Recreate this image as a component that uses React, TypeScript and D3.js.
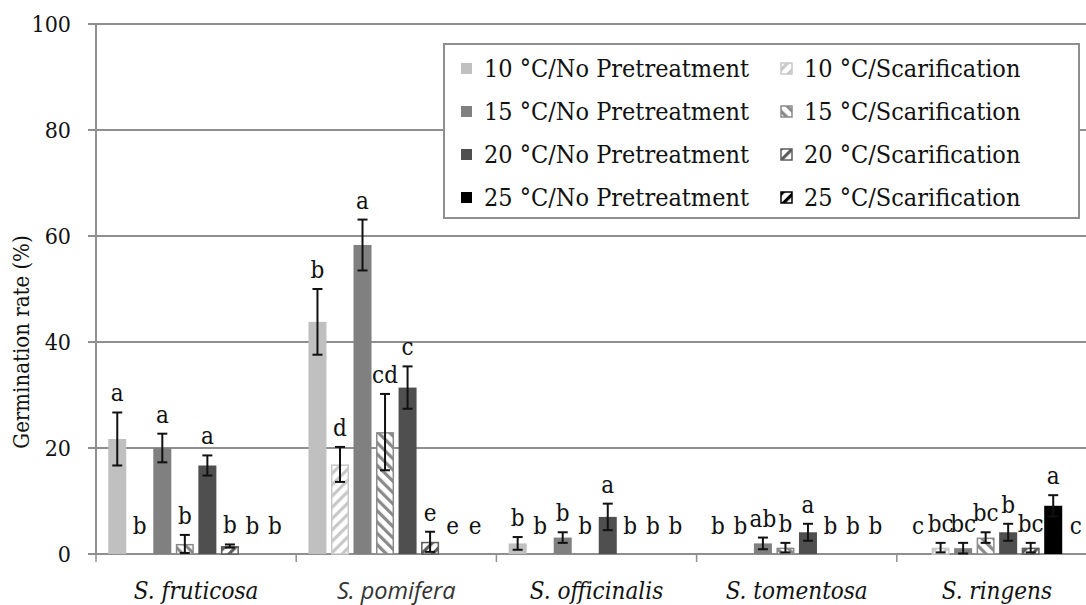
import React from 'react';
import * as d3 from 'd3';

// treatments, in the order the bars appear inside each species group
const treatments = [
  '10 °C/No Pretreatment',
  '10 °C/Scarification',
  '15 °C/No Pretreatment',
  '15 °C/Scarification',
  '20 °C/No Pretreatment',
  '20 °C/Scarification',
  '25 °C/No Pretreatment',
  '25 °C/Scarification',
];

const species = ['S. fruticosa', 'S. pomifera', 'S. officinalis', 'S. tomentosa', 'S. ringens'];

// mean germination rate (%) per treatment
const fruticosaMeans = [21.7, 0, 20.0, 1.9, 16.7, 1.5, 0, 0];
const pomiferaMeans = [43.8, 16.9, 58.3, 23.0, 31.4, 2.3, 0, 0];
const officinalisMeans = [2.0, 0, 3.1, 0, 7.0, 0, 0, 0];
const tomentosaMeans = [0, 0, 2.0, 1.2, 4.1, 0, 0, 0];
const ringensMeans = [0, 1.2, 1.1, 3.1, 4.1, 1.2, 9.1, 0];

// standard errors
const fruticosaErrors = [5.0, 0, 2.7, 1.7, 1.9, 0.3, 0, 0];
const pomiferaErrors = [6.2, 3.3, 4.8, 7.2, 4.0, 1.9, 0, 0];
const officinalisErrors = [1.2, 0, 1.0, 0, 2.5, 0, 0, 0];
const tomentosaErrors = [0, 0, 1.1, 0.9, 1.6, 0, 0, 0];
const ringensErrors = [0, 0.9, 1.0, 1.0, 1.6, 0.9, 2.0, 0];

// significance letters
const fruticosaLetters = ['a', 'b', 'a', 'b', 'a', 'b', 'b', 'b'];
const pomiferaLetters = ['b', 'd', 'a', 'cd', 'c', 'e', 'e', 'e'];
const officinalisLetters = ['b', 'b', 'b', 'b', 'a', 'b', 'b', 'b'];
const tomentosaLetters = ['b', 'b', 'ab', 'b', 'a', 'b', 'b', 'b'];
const ringensLetters = ['c', 'bc', 'bc', 'bc', 'b', 'bc', 'a', 'c'];

const yTicks = [0, 20, 40, 60, 80, 100];

const means = [fruticosaMeans, pomiferaMeans, officinalisMeans, tomentosaMeans, ringensMeans];
const errors = [fruticosaErrors, pomiferaErrors, officinalisErrors, tomentosaErrors, ringensErrors];
const letters = [fruticosaLetters, pomiferaLetters, officinalisLetters, tomentosaLetters, ringensLetters];

const serif = "'DejaVu Serif Condensed', 'DejaVu Serif', serif";
const grid = '#8f8f8f';

// colour of each treatment; scarification ones get a striped pattern
const colors = ['#c0c0c0', '#c8c8c8', '#808080', '#8a8a8a', '#4f4f4f', '#5c5c5c', '#000000', '#000000'];
const isScar = (i: number) => i % 2 === 1;
const fillOf = (i: number) => (isScar(i) ? `url(#pat${i})` : colors[i]);

export default function App() {
  const width = 1086;
  const height = 605;

  const x0 = d3.scaleBand<string>().domain(species).range([96, 1097]).padding(0);
  const x1 = d3
    .scaleBand<string>()
    .domain(treatments)
    .range([10, x0.bandwidth() - 10])
    .paddingInner(0.2)
    .paddingOuter(0.1);
  const y = d3.scaleLinear().domain([0, 100]).range([554, 24]);

  const bars: any[] = [];
  species.forEach((sp, si) => {
    treatments.forEach((t, ti) => {
      const v = means[si][ti];
      const e = errors[si][ti];
      bars.push({ sp, si, t, ti, v, e, letter: letters[si][ti], x: (x0(sp) as number) + (x1(t) as number) });
    });
  });
  const bw = x1.bandwidth();

  return (
    <svg width={width} height={height} style={{ position: 'absolute', left: 0, top: 0, background: '#fff' }}>
      <defs>
        {treatments.map((t, i) =>
          isScar(i) ? (
            <pattern
              key={i}
              id={`pat${i}`}
              patternUnits="userSpaceOnUse"
              width={8}
              height={8}
              patternTransform={`rotate(${i === 3 ? -45 : 45})`}
            >
              <rect width={8} height={8} fill="#fff" />
              <rect width={3.2} height={8} fill={colors[i]} />
            </pattern>
          ) : null
        )}
      </defs>

      {/* gridlines */}
      {yTicks.map((t) => (
        <g key={t}>
          <line x1={88} x2={width} y1={y(t)} y2={y(t)} stroke={grid} strokeWidth={2} />
          <text
            x={71}
            y={y(t)}
            dy="0.35em"
            textAnchor="end"
            fontFamily={serif}
            fontSize={23}
            fill="#111"
          >
            {t}
          </text>
        </g>
      ))}
      <line x1={96} x2={96} y1={y(100)} y2={y(0)} stroke={grid} strokeWidth={2} />
      {species.map((sp) => (
        <line key={sp} x1={x0(sp)} x2={x0(sp)} y1={y(0)} y2={y(0) + 8} stroke={grid} strokeWidth={1.5} />
      ))}

      {/* bars */}
      {bars.map((b, k) =>
        b.v > 0 ? (
          <rect
            key={k}
            x={b.x + (isScar(b.ti) ? 0.75 : 0)}
            y={y(b.v) + (isScar(b.ti) ? 0.75 : 0)}
            width={bw - (isScar(b.ti) ? 1.5 : 0)}
            height={y(0) - y(b.v) - (isScar(b.ti) ? 0.75 : 0)}
            fill={fillOf(b.ti)}
            stroke={isScar(b.ti) ? colors[b.ti] : 'none'}
            strokeWidth={1.5}
          />
        ) : null
      )}

      {/* error bars */}
      {bars.map((b, k) =>
        b.e > 0 ? (
          <g key={k} stroke="#111" strokeWidth={2}>
            <line x1={b.x + bw / 2} x2={b.x + bw / 2} y1={y(b.v + b.e)} y2={y(Math.max(0, b.v - b.e))} />
            <line x1={b.x + bw / 2 - 5} x2={b.x + bw / 2 + 5} y1={y(b.v + b.e)} y2={y(b.v + b.e)} />
            <line
              x1={b.x + bw / 2 - 5}
              x2={b.x + bw / 2 + 5}
              y1={y(Math.max(0, b.v - b.e))}
              y2={y(Math.max(0, b.v - b.e))}
            />
          </g>
        ) : null
      )}

      {/* letters */}
      {bars.map((b, k) => (
        <text
          key={k}
          x={b.x + bw / 2}
          y={Math.min(y(b.v + b.e) - 11, y(0) - 20)}
          textAnchor="middle"
          fontFamily={serif}
          fontSize={24}
          fill="#111"
        >
          {b.letter}
        </text>
      ))}

      {/* category labels */}
      {species.map((sp) => (
        <text
          key={sp}
          x={(x0(sp) as number) + x0.bandwidth() / 2}
          y={599}
          textAnchor="middle"
          fontFamily={sp === 'S. pomifera' ? "'Open Sans', sans-serif" : serif}
          fontStyle="italic"
          fontSize={sp === 'S. pomifera' ? 23.5 : 24}
          fill={sp === 'S. pomifera' ? '#333' : '#111'}
        >
          {sp}
        </text>
      ))}

      {/* y title */}
      <text
        transform={`translate(29,${y(40)}) rotate(-90)`}
        textAnchor="middle"
        fontFamily={serif}
        fontSize={22}
        fill="#111"
      >
        Germination rate (%)
      </text>

      {/* legend */}
      <g>
        <rect x={444} y={44} width={635} height={174} fill="#fff" stroke={grid} strokeWidth={2} />
        {treatments.map((t, i) => {
          const col = i % 2;
          const row = Math.floor(i / 2);
          const lx = col === 0 ? 461 : 781;
          const ly = 68 + row * 43;
          return (
            <g key={t}>
              <rect
                x={lx}
                y={ly - 5}
                width={11}
                height={11}
                fill={fillOf(i)}
                stroke={isScar(i) ? colors[i] : 'none'}
                strokeWidth={1.5}
              />
              <text x={lx + 23} y={ly} dy="0.35em" fontFamily={serif} fontSize={25} fill="#111">
                {t}
              </text>
            </g>
          );
        })}
      </g>
    </svg>
  );
}
